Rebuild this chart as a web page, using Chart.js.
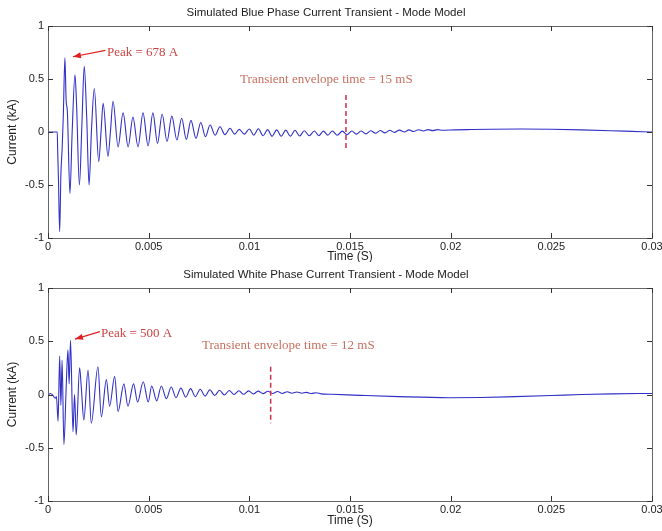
<!DOCTYPE html>
<html>
<head>
<meta charset="utf-8">
<script src="https://cdn.jsdelivr.net/npm/chart.js@4.4.1/dist/chart.umd.min.js"></script>
<style>
  html, body { margin: 0; padding: 0; background: #fff; }
  #wrap { position: relative; width: 662px; height: 531px; }
  canvas { position: absolute; left: 0; }
  #topChart { top: 0; }
  #bottomChart { top: 262px; }
</style>
</head>
<body>
<div id="wrap">
  <canvas id="topChart" width="662" height="262"></canvas>
  <canvas id="bottomChart" width="662" height="269"></canvas>
</div>
<script>
// axis ticks
const xTickValues = [0, 0.005, 0.01, 0.015, 0.02, 0.025, 0.03];
const xTickLabels = ['0', '0.005', '0.01', '0.015', '0.02', '0.025', '0.03'];
const yTickValues = [-1, -0.5, 0, 0.5, 1];
const yTickLabels = ['-1', '-0.5', '0', '0.5', '1'];

// blue phase current (time in ms, current in kA)
const blueTimeMs = [
  0, 0.46, 0.48, 0.52, 0.58, 0.64, 0.70, 0.76, 0.84, 0.90,
  0.96, 1.09, 1.20, 1.34, 1.42, 1.56, 1.68, 1.80, 1.92, 2.04,
  2.16, 2.30, 2.52, 2.64, 2.74, 2.98, 3.10, 3.23, 3.48, 3.73,
  3.98, 4.22, 4.47, 4.72, 4.97, 5.21, 5.44, 5.67, 5.91, 6.15,
  6.40, 6.64, 6.87, 7.10, 7.35, 7.59, 7.82, 8.05, 8.30, 8.54,
  8.79, 9.04, 9.27, 9.50, 9.75, 10.0, 10.22, 10.45, 10.68, 10.91,
  11.13, 11.36, 11.58, 11.81, 12.04, 12.27, 12.50, 12.73, 12.98, 13.23,
  13.45, 13.68, 13.90, 14.12, 14.37, 14.62, 14.85, 15.09, 15.32, 15.55,
  15.79, 16.03, 16.27, 16.50, 16.74, 16.98, 17.20, 17.45, 17.70, 17.93,
  18.16, 18.40, 18.64, 18.88, 19.10, 19.35, 19.60, 20.2, 21.0, 22.0,
  23.5, 25.0, 26.5, 28.0, 29.0, 30.0
];
const blueCurrent = [
  0, 0, -0.17, -0.45, -0.94, -0.40, -0.17, 0.15, 0.70, 0.30,
  0.20, -0.58, 0.00, 0.54, 0.25, -0.50, 0.05, 0.62, 0.15, -0.50,
  0.02, 0.41, -0.28, 0.02, 0.27, -0.23, 0.00, 0.29, -0.14, 0.18,
  -0.14, 0.14, -0.14, 0.18, -0.13, 0.18, -0.107, 0.17, -0.09, 0.15,
  -0.075, 0.13, -0.07, 0.11, -0.06, 0.09, -0.044, 0.066, -0.03, 0.05,
  -0.025, 0.035, -0.02, 0.025, -0.02, 0.028, -0.03, 0.03, -0.035, 0.022,
  -0.04, 0.02, -0.04, 0.018, -0.04, 0.016, -0.038, 0.012, -0.035, 0.01,
  -0.035, 0.008, -0.03, 0.01, -0.03, 0.008, -0.025, 0.01, -0.02, 0.01,
  -0.018, 0.012, -0.012, 0.014, -0.008, 0.016, -0.004, 0.018, 0.0, 0.02,
  0.005, 0.021, 0.01, 0.022, 0.013, 0.022, 0.016, 0.02, 0.023, 0.026,
  0.028, 0.026, 0.02, 0.012, 0.006, 0.0
];

// white phase current (time in ms, current in kA)
const whiteTimeMs = [
  0, 0.12, 0.25, 0.36, 0.42, 0.50, 0.58, 0.64, 0.70, 0.79,
  0.90, 0.99, 1.05, 1.12, 1.24, 1.32, 1.40, 1.57, 1.66, 1.78,
  1.99, 2.15, 2.48, 2.65, 2.90, 3.06, 3.31, 3.48, 3.77, 3.97,
  4.25, 4.45, 4.73, 4.98, 5.15, 5.40, 5.63, 5.88, 6.12, 6.36,
  6.60, 6.84, 7.08, 7.32, 7.56, 7.80, 8.04, 8.28, 8.52, 8.76,
  9.00, 9.24, 9.48, 9.72, 9.96, 10.20, 10.44, 10.68, 10.92, 11.16,
  11.40, 11.64, 11.88, 12.12, 12.36, 12.60, 12.84, 13.08, 13.32, 13.56,
  14.1, 15.5, 17.4, 19.9, 21.5, 23.2, 25.0, 26.5, 28.0, 30.0
];
const whiteCurrent = [
  -0.005, 0.01, -0.01, -0.035, -0.02, -0.25, 0.36, -0.10, 0.32, -0.47,
  0.05, 0.42, 0.10, 0.51, -0.35, 0.00, -0.38, 0.25, 0.05, -0.24,
  0.23, -0.27, 0.26, -0.21, 0.14, -0.11, 0.17, -0.16, 0.10, -0.11,
  0.10, -0.07, 0.12, -0.07, 0.08, -0.06, 0.08, -0.04, 0.07, -0.03,
  0.06, -0.025, 0.055, -0.02, 0.05, -0.015, 0.045, -0.01, 0.04, -0.005,
  0.038, 0.0, 0.035, 0.002, 0.034, 0.005, 0.032, 0.008, 0.03, 0.01,
  0.028, 0.01, 0.026, 0.012, 0.024, 0.012, 0.02, 0.01, 0.016, 0.006,
  0.002, -0.008, -0.02, -0.03, -0.028, -0.02, -0.01, 0.0, 0.006, 0.01
];

// annotation placement (data units)
const blueNotes = {
  peakText: 'Peak = 678 A', peakAt: [0.00293, 0.745],
  arrowFrom: [0.00285, 0.77], arrowTo: [0.00124, 0.71],
  envText: 'Transient envelope time = 15 mS', envAt: [0.00954, 0.49],
  dashX: 0.0148, dashTop: 0.35, dashBottom: -0.17
};
const whiteNotes = {
  peakText: 'Peak = 500 A', peakAt: [0.00263, 0.568],
  arrowFrom: [0.00258, 0.59], arrowTo: [0.00134, 0.52],
  envText: 'Transient envelope time = 12 mS', envAt: [0.00765, 0.455],
  dashX: 0.01106, dashTop: 0.26, dashBottom: -0.27
};

const sansFont = '"Liberation Sans", Arial, sans-serif';

// MATLAB-like frame with inward ticks + text annotations
const framePlugin = {
  id: 'frame',
  afterDraw(chart, args, opts) {
    const ctx = chart.ctx;
    const a = chart.chartArea;
    const xs = chart.scales.x, ys = chart.scales.y;
    ctx.save();
    ctx.strokeStyle = '#666';
    ctx.lineWidth = 1;
    ctx.strokeRect(Math.round(a.left) + 0.5, Math.round(a.top) + 0.5,
      Math.round(a.right - a.left), Math.round(a.bottom - a.top));
    ctx.strokeStyle = '#333';
    ctx.beginPath();
    xTickValues.forEach(v => {
      const px = Math.round(xs.getPixelForValue(v)) + 0.5;
      ctx.moveTo(px, a.top); ctx.lineTo(px, a.top + 5);
      ctx.moveTo(px, a.bottom); ctx.lineTo(px, a.bottom - 5);
    });
    yTickValues.forEach(v => {
      const py = Math.round(ys.getPixelForValue(v)) + 0.5;
      ctx.moveTo(a.left, py); ctx.lineTo(a.left + 5, py);
      ctx.moveTo(a.right, py); ctx.lineTo(a.right - 5, py);
    });
    ctx.stroke();

    const n = opts.notes;
    if (n) {
      // dashed envelope marker
      ctx.strokeStyle = '#d0304a';
      ctx.lineWidth = 1.5;
      ctx.setLineDash([5, 3]);
      ctx.beginPath();
      const dx = xs.getPixelForValue(n.dashX);
      ctx.moveTo(dx, ys.getPixelForValue(n.dashTop));
      ctx.lineTo(dx, ys.getPixelForValue(n.dashBottom));
      ctx.stroke();
      ctx.setLineDash([]);

      // arrow to peak
      const x0 = xs.getPixelForValue(n.arrowFrom[0]), y0 = ys.getPixelForValue(n.arrowFrom[1]);
      const x1 = xs.getPixelForValue(n.arrowTo[0]), y1 = ys.getPixelForValue(n.arrowTo[1]);
      ctx.strokeStyle = '#e02020';
      ctx.fillStyle = '#e02020';
      ctx.lineWidth = 1.2;
      ctx.beginPath(); ctx.moveTo(x0, y0); ctx.lineTo(x1, y1); ctx.stroke();
      const ang = Math.atan2(y1 - y0, x1 - x0);
      ctx.beginPath();
      ctx.moveTo(x1, y1);
      ctx.lineTo(x1 - 8 * Math.cos(ang) + 3 * Math.sin(ang), y1 - 8 * Math.sin(ang) - 3 * Math.cos(ang));
      ctx.lineTo(x1 - 8 * Math.cos(ang) - 3 * Math.sin(ang), y1 - 8 * Math.sin(ang) + 3 * Math.cos(ang));
      ctx.closePath();
      ctx.fill();

      ctx.font = '13px "Liberation Serif", "Times New Roman", serif';
      ctx.textAlign = 'left';
      ctx.textBaseline = 'middle';
      ctx.fillStyle = '#cc4444';
      ctx.fillText(n.peakText, xs.getPixelForValue(n.peakAt[0]), ys.getPixelForValue(n.peakAt[1]));
      ctx.fillStyle = '#c8705f';
      ctx.fillText(n.envText, xs.getPixelForValue(n.envAt[0]), ys.getPixelForValue(n.envAt[1]));
    }
    ctx.restore();
  }
};

function makeChart(id, title, timesMs, values, notes, xAxisHeight, tickPad, xTitlePad) {
  const points = timesMs.map((t, i) => ({ x: t / 1000, y: values[i] }));
  return new Chart(document.getElementById(id), {
    type: 'line',
    data: {
      datasets: [{
        label: title,
        data: points,
        borderColor: '#3030c8',
        borderWidth: 1.1,
        pointRadius: 0,
        cubicInterpolationMode: 'monotone',
        fill: false
      }]
    },
    options: {
      responsive: false,
      animation: false,
      devicePixelRatio: 1,
      layout: { padding: { left: 0, right: 10, top: 0, bottom: 0 } },
      plugins: {
        legend: { display: false },
        tooltip: { enabled: false },
        title: {
          display: true,
          text: title,
          color: '#222',
          font: { family: sansFont, size: 11.5, weight: 'normal' },
          padding: { top: 6, bottom: 6.2 }
        },
        frame: { notes: notes }
      },
      scales: {
        x: {
          type: 'linear',
          min: 0, max: 0.03,
          afterBuildTicks: s => { s.ticks = xTickValues.map(v => ({ value: v })); },
          afterFit: s => { s.height = xAxisHeight; s.paddingLeft = 0; s.paddingRight = 0; },
          ticks: {
            callback: (v, i) => xTickLabels[i],
            color: '#222',
            font: { family: sansFont, size: 11 },
            padding: tickPad,
            maxRotation: 0,
            autoSkip: false
          },
          grid: { display: false, drawTicks: false },
          border: { display: false },
          title: {
            display: true, text: 'Time (S)', color: '#222',
            font: { family: sansFont, size: 12 },
            padding: { top: 0, bottom: xTitlePad }
          }
        },
        y: {
          type: 'linear',
          min: -1, max: 1,
          afterBuildTicks: s => { s.ticks = yTickValues.map(v => ({ value: v })); },
          afterFit: s => { s.width = 48; s.paddingTop = 0; s.paddingBottom = 0; },
          ticks: {
            callback: (v, i) => yTickLabels[i],
            color: '#222',
            font: { family: sansFont, size: 11 },
            padding: 4
          },
          grid: { display: false, drawTicks: false },
          border: { display: false },
          title: {
            display: true, text: 'Current (kA)', color: '#222',
            font: { family: sansFont, size: 12 },
            padding: { top: 5, bottom: 0 }
          }
        }
      }
    },
    plugins: [framePlugin]
  });
}

makeChart('topChart', 'Simulated Blue Phase Current Transient - Mode Model',
  blueTimeMs, blueCurrent, blueNotes, 24, 2, -2);
makeChart('bottomChart', 'Simulated White Phase Current Transient - Mode Model',
  whiteTimeMs, whiteCurrent, whiteNotes, 30, 2, 3);
</script>
</body>
</html>
